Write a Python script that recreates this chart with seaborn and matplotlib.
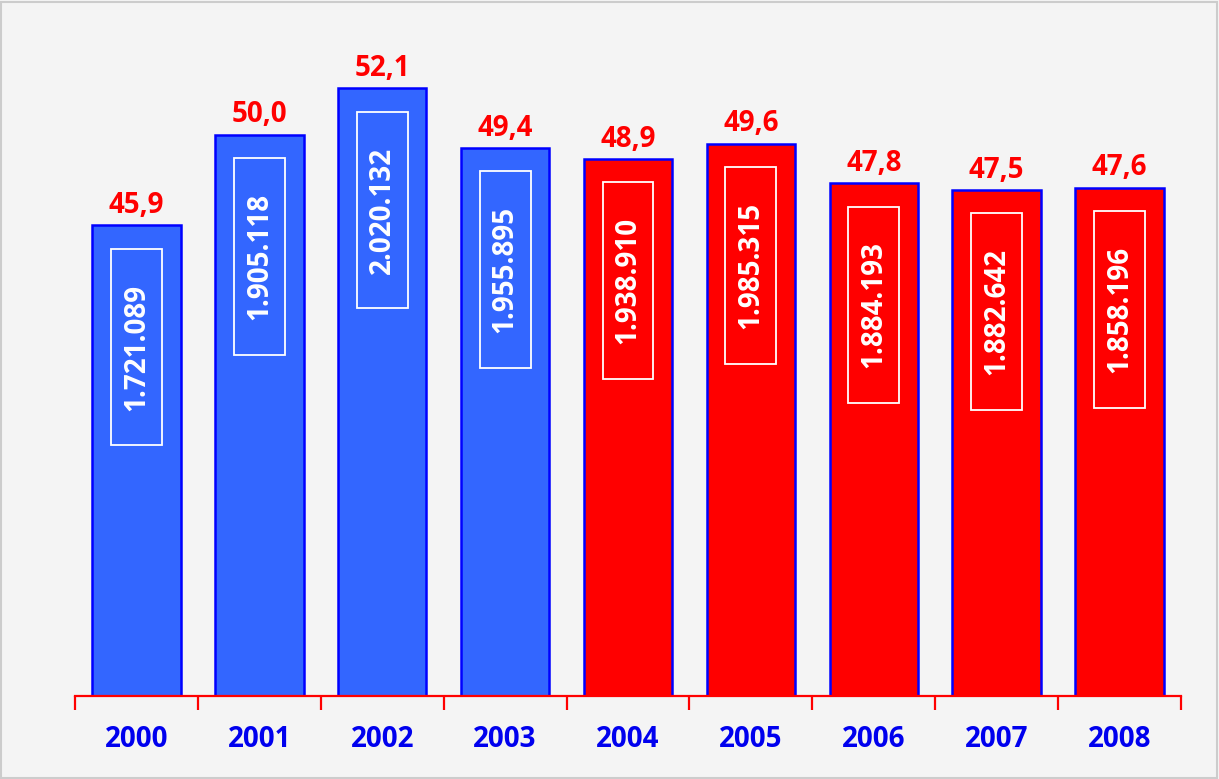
import matplotlib

matplotlib.use("Agg")
import matplotlib.pyplot as plt
import pandas as pd
import seaborn as sns
from matplotlib.patches import Rectangle

years = ["2000", "2001", "2002", "2003", "2004", "2005", "2006", "2007", "2008"]
rates = [45.9, 50.0, 52.1, 49.4, 48.9, 49.6, 47.8, 47.5, 47.6]
counts = ["1.721.089", "1.905.118", "2.020.132", "1.955.895", "1.938.910",
          "1.985.315", "1.884.193", "1.882.642", "1.858.196"]
bar_colors = ["#3366FF"] * 4 + ["#FF0000"] * 5

df = pd.DataFrame({"year": years, "rate": rates, "count": counts})

sns.set_theme(style="white")
plt.rcParams["font.family"] = ["Open Sans", "DejaVu Sans"]

fig = plt.figure(figsize=(12.19, 7.79), dpi=100, facecolor="#f4f4f4")
ax = fig.add_axes([75 / 1219, 83 / 779, 1106 / 1219, 676 / 779])
ax.set_facecolor("none")

sns.barplot(data=df, x="year", y="rate", hue="year", palette=bar_colors,
            legend=False, width=0.72, edgecolor="#0000FF", linewidth=1.8,
            saturation=1, ax=ax)

ax.set_xlim(-0.5, len(years) - 0.5)
ax.set_ylim(24.6, 55.2)
ax.set_xlabel("")
ax.set_ylabel("")
ax.set_yticks([])

for side in ["top", "right", "left"]:
    ax.spines[side].set_visible(False)
ax.spines["bottom"].set_color("#FF0000")
ax.spines["bottom"].set_linewidth(1.6)

ax.set_xticks(range(len(years)))
ax.set_xticklabels(years, fontsize=20, fontweight="bold", color="#0000EE")
ax.tick_params(axis="x", which="major", length=0, pad=21)
ax.set_xticks([i - 0.5 for i in range(len(years) + 1)], minor=True)
ax.tick_params(axis="x", which="minor", length=10, width=1.6, color="#FF0000",
               direction="out", bottom=True)

box_w = 0.415
box_h = 8.9
for i, (rate, count) in enumerate(zip(rates, counts)):
    ax.annotate(f"{rate:.1f}".replace(".", ","), (i, rate), xytext=(0, 4),
                textcoords="offset points", ha="center", va="bottom",
                fontsize=20, fontweight="bold", color="#FF0000")
    cy = rate - 5.5
    ax.add_patch(Rectangle((i - box_w / 2, cy - box_h / 2), box_w, box_h,
                           fill=False, edgecolor="white", linewidth=1.3))
    ax.text(i, cy, count, rotation=90, ha="center", va="center",
            fontsize=20, fontweight="bold", color="white")

fig.patches.append(Rectangle((0.001, 0.001), 0.997, 0.996, transform=fig.transFigure,
                             fill=False, edgecolor="#cccccc", linewidth=1.5))

fig.savefig("out.png", dpi=100, facecolor=fig.get_facecolor())
